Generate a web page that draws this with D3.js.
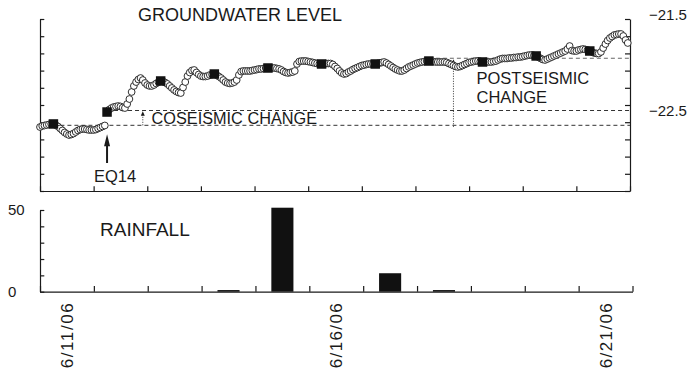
<!DOCTYPE html>
<html>
<head>
<meta charset="utf-8">
<script src="https://cdn.jsdelivr.net/npm/d3@7"></script>
<style>
  html, body { margin: 0; padding: 0; background: #fff; }
  svg { display: block; font-family: "Liberation Sans", Arial, Helvetica, sans-serif; }
</style>
</head>
<body>
<svg id="chart" width="692" height="373"></svg>
<script>
// Hourly groundwater level (m), starting 6/11/06 00:00, one row per day
const groundwaterLevel = [
  -22.673, -22.662, -22.657, -22.652, -22.646, -22.641, -22.641, -22.652, -22.667, -22.688, -22.709, -22.730,
  -22.746, -22.757, -22.751, -22.741, -22.725, -22.709, -22.699, -22.694, -22.694, -22.699, -22.704, -22.704,
  -22.704, -22.699, -22.688, -22.678, -22.667, -22.657, -22.516, -22.490, -22.474, -22.463, -22.458, -22.453,
  -22.458, -22.469, -22.474, -22.432, -22.380, -22.306, -22.243, -22.202, -22.175, -22.160, -22.181, -22.212,
  -22.233, -22.243, -22.243, -22.233, -22.217, -22.202, -22.191, -22.196, -22.207, -22.222, -22.243, -22.264,
  -22.285, -22.301, -22.312, -22.317, -22.259, -22.202, -22.139, -22.102, -22.081, -22.076, -22.102, -22.123,
  -22.139, -22.144, -22.144, -22.139, -22.128, -22.123, -22.118, -22.128, -22.144, -22.160, -22.181, -22.202,
  -22.212, -22.217, -22.212, -22.202, -22.181, -22.128, -22.092, -22.086, -22.086, -22.086, -22.086, -22.081,
  -22.076, -22.071, -22.065, -22.065, -22.060, -22.055, -22.055, -22.055, -22.055, -22.055, -22.060, -22.065,
  -22.076, -22.092, -22.102, -22.107, -22.102, -22.097, -22.086, -22.013, -21.987, -21.982, -21.982, -21.982,
  -21.987, -21.992, -21.997, -22.003, -22.008, -22.013, -22.013, -22.013, -22.008, -22.008, -22.008, -22.018,
  -22.039, -22.060, -22.086, -22.107, -22.118, -22.113, -22.097, -22.086, -22.071, -22.060, -22.050, -22.039,
  -22.029, -22.024, -22.018, -22.013, -22.013, -22.013, -22.013, -22.008, -22.003, -21.997, -21.992, -22.003,
  -22.018, -22.034, -22.050, -22.065, -22.076, -22.086, -22.086, -22.076, -22.060, -22.044, -22.034, -22.024,
  -22.013, -22.003, -21.997, -21.992, -21.987, -21.982, -21.982, -21.982, -21.987, -21.992, -21.992, -21.992,
  -21.992, -21.992, -21.997, -22.008, -22.018, -22.029, -22.039, -22.044, -22.039, -22.029, -22.018, -22.008,
  -21.997, -21.992, -21.987, -21.982, -21.982, -21.987, -21.992, -21.992, -21.992, -21.992, -21.992, -21.987,
  -21.982, -21.971, -21.961, -21.955, -21.955, -21.955, -21.950, -21.950, -21.945, -21.945, -21.940, -21.940,
  -21.935, -21.929, -21.924, -21.919, -21.919, -21.924, -21.929, -21.940, -21.955, -21.966, -21.971, -21.961,
  -21.950, -21.940, -21.929, -21.919, -21.908, -21.898, -21.887, -21.877, -21.856, -21.825, -21.872, -21.877,
  -21.877, -21.866, -21.861, -21.856, -21.861, -21.866, -21.877, -21.887, -21.898, -21.903, -21.903, -21.887,
  -21.846, -21.804, -21.767, -21.741, -21.725, -21.709, -21.704, -21.699, -21.699, -21.720, -21.762, -21.793
];

// Daily rainfall (mm), 6/11/06 – 6/21/06
const rainDates = ["2006-06-11", "2006-06-12", "2006-06-13", "2006-06-14", "2006-06-15", "2006-06-16",
                   "2006-06-17", "2006-06-18", "2006-06-19", "2006-06-20", "2006-06-21"];
const rainfall = [0, 0, 0, 1, 51.4, 0, 11.3, 1, 0, 0, 0];

// Axis labels
const dateLabels = ["6/11/06", "6/16/06", "6/21/06"];
const dateLabelDates = ["2006-06-11", "2006-06-16", "2006-06-21"];
const levelTickValues = [-21.5, -22.5];
const levelTickLabels = ["\u221221.5", "\u221222.5"];
const rainTickValues = [0, 10, 20, 30, 40, 50];
const rainTickLabels = [0, 50];

// Reference levels and times for the annotations (hours after 6/11 00:00)
const preQuakeLevel = -22.655;
const postQuakeLevel = -22.5;
const postseismicLevel = -21.953;
const quakeHour = 30;
const coseismicArrowHour = 46;
const postseismicArrowHour = 185;
const postseismicLineStartHour = 174;

const parseDay = d3.timeParse("%Y-%m-%d");
const startTime = new Date(2006, 5, 11, 0);
const endTime = new Date(2006, 5, 22, 0);
const HOUR = 3600e3;
const atHour = h => new Date(+startTime + h * HOUR);

const series = groundwaterLevel.map((v, i) => ({ t: atHour(i), v }));
const dailyReadings = series.filter((d, i) => i % 24 === 6);

const svg = d3.select("#chart");
const ink = "#1a1a1a";

// Scales
const xTop = d3.scaleTime().domain([startTime, endTime]).range([40, 630]);
const xBot = d3.scaleTime().domain([startTime, endTime]).range([40, 632.5]);
const yLevel = d3.scaleLinear().domain([-22.5, -21.5]).range([110.5, 15]);
const yFrame = d3.scaleLinear().domain([0, 10]).range([191, 19]);
const yRain = d3.scaleLinear().domain([0, 50]).range([291.7, 210]);

function styleAxis(g) {
  g.style("color", ink);
  g.selectAll("path, line").attr("stroke-width", 1.2);
}

// ---------- Groundwater panel ----------
svg.append("g").attr("transform", "translate(40,0)")
  .call(d3.axisLeft(yFrame).ticks(10).tickSize(-4.3).tickSizeOuter(0).tickFormat(""))
  .call(styleAxis);
svg.append("g").attr("transform", "translate(630,0)")
  .call(d3.axisRight(yFrame).ticks(10).tickSize(-5).tickSizeOuter(0).tickFormat(""))
  .call(styleAxis);
svg.append("g").attr("transform", "translate(0,191)")
  .call(d3.axisBottom(xTop).ticks(d3.timeDay.every(1)).tickSize(-4.7).tickSizeOuter(0).tickFormat(""))
  .call(styleAxis);

svg.append("g").attr("transform", "translate(630,0)")
  .call(d3.axisRight(yLevel).tickValues(levelTickValues).tickSize(0).tickPadding(19)
    .tickFormat((d, i) => levelTickLabels[i]))
  .call(g => g.select(".domain").remove())
  .call(g => g.selectAll("text").attr("font-size", 15).attr("fill", ink)
    .attr("font-family", '"Liberation Sans", Arial, sans-serif'));

// Reference dashed lines
const dashed = svg.append("g").attr("fill", "none").attr("stroke-width", 1)
  .attr("stroke-dasharray", "4,3");
dashed.append("line")
  .attr("x1", xTop(atHour(6))).attr("x2", xTop(endTime))
  .attr("y1", yLevel(preQuakeLevel)).attr("y2", yLevel(preQuakeLevel))
  .attr("stroke", "#333");
dashed.append("line")
  .attr("x1", xTop(atHour(quakeHour))).attr("x2", xTop(endTime))
  .attr("y1", yLevel(postQuakeLevel)).attr("y2", yLevel(postQuakeLevel))
  .attr("stroke", "#333");
dashed.append("line")
  .attr("x1", xTop(atHour(postseismicLineStartHour))).attr("x2", xTop(endTime))
  .attr("y1", yLevel(postseismicLevel)).attr("y2", yLevel(postseismicLevel))
  .attr("stroke", "#666");

// Dotted arrows for the coseismic and postseismic changes
function dottedArrow(xPos, yFrom, yTip) {
  const g = svg.append("g");
  g.append("line").attr("x1", xPos).attr("x2", xPos).attr("y1", yFrom).attr("y2", yTip + 3.5)
    .attr("stroke", "#333").attr("stroke-width", 1).attr("stroke-dasharray", "1,1.5");
  g.append("path").attr("d", `M${xPos},${yTip}L${xPos - 2},${yTip + 4.5}L${xPos + 2},${yTip + 4.5}Z`)
    .attr("fill", ink);
}
dottedArrow(xTop(atHour(coseismicArrowHour)), yLevel(preQuakeLevel), yLevel(postQuakeLevel) + 0.8);
dottedArrow(xTop(atHour(postseismicArrowHour)), yLevel(preQuakeLevel) + 1.5, yLevel(postseismicLevel) + 1);

// Hourly readings
svg.append("g").selectAll("circle").data(series).join("circle")
  .attr("cx", d => xTop(d.t)).attr("cy", d => yLevel(d.v)).attr("r", 3.4)
  .attr("fill", "#fff").attr("stroke", ink).attr("stroke-width", 0.9);

// Daily 06:00 readings
const sq = 9.5;
svg.append("g").selectAll("rect").data(dailyReadings).join("rect")
  .attr("x", d => xTop(d.t) - sq / 2).attr("y", d => yLevel(d.v) - sq / 2)
  .attr("width", sq).attr("height", sq).attr("fill", "#111");

// Earthquake arrow
const xq = xTop(atHour(quakeHour));
const tipY = yLevel(preQuakeLevel) + 9;
svg.append("line").attr("x1", xq).attr("x2", xq).attr("y1", tipY + 10).attr("y2", 163)
  .attr("stroke", ink).attr("stroke-width", 2);
svg.append("path").attr("d", `M${xq},${tipY}L${xq - 3},${tipY + 12}L${xq + 3},${tipY + 12}Z`).attr("fill", ink);

// Panel text
const label = (txt, x, y, size) => svg.append("text").attr("x", x).attr("y", y)
  .attr("font-size", size).attr("fill", ink).text(txt);
label("GROUNDWATER LEVEL", 138, 20.7, 18);
label("COSEISMIC CHANGE", 151.5, 124, 16.3);
label("POSTSEISMIC", 476.5, 84, 16.5);
label("CHANGE", 476.5, 102.7, 16.5);
label("EQ14", 94, 182, 16.5);

// ---------- Rainfall panel ----------
const dayWidth = xBot(atHour(24)) - xBot(startTime);
const barW = dayWidth * 0.41;
svg.append("g").selectAll("rect").data(rainfall.map((v, i) => ({ d: parseDay(rainDates[i]), v })))
  .join("rect")
  .attr("x", d => xBot(d3.timeHour.offset(d.d, 12)) - barW / 2)
  .attr("y", d => yRain(d.v))
  .attr("width", barW)
  .attr("height", d => yRain(0) - yRain(d.v))
  .attr("fill", "#111");

svg.append("g").attr("transform", "translate(40,0)")
  .call(d3.axisLeft(yRain).tickValues(rainTickValues).tickSize(-4.3).tickSizeOuter(0)
    .tickFormat(d => rainTickLabels.includes(d) ? String(d) : ""))
  .call(styleAxis)
  .call(g => g.selectAll("text").attr("x", -32).attr("text-anchor", "start")
    .attr("font-size", 15).attr("fill", ink)
    .attr("font-family", '"Liberation Sans", Arial, sans-serif'));

svg.append("g").attr("transform", "translate(0,291.7)")
  .call(d3.axisBottom(xBot).ticks(d3.timeDay.every(1)).tickSize(-5.7).tickSizeOuter(0).tickFormat(""))
  .call(styleAxis);

label("RAINFALL", 100, 236, 19);

// Rotated date labels, centred on their day
svg.append("g").selectAll("text").data(dateLabels).join("text")
  .attr("transform", (d, i) => `translate(${xBot(d3.timeHour.offset(parseDay(dateLabelDates[i]), 12))},303.3) rotate(-90)`)
  .attr("text-anchor", "end").attr("dy", "0.35em")
  .attr("font-size", 17).attr("fill", ink)
  .attr("textLength", 65).attr("lengthAdjust", "spacing")
  .text(d => d);
</script>
</body>
</html>
